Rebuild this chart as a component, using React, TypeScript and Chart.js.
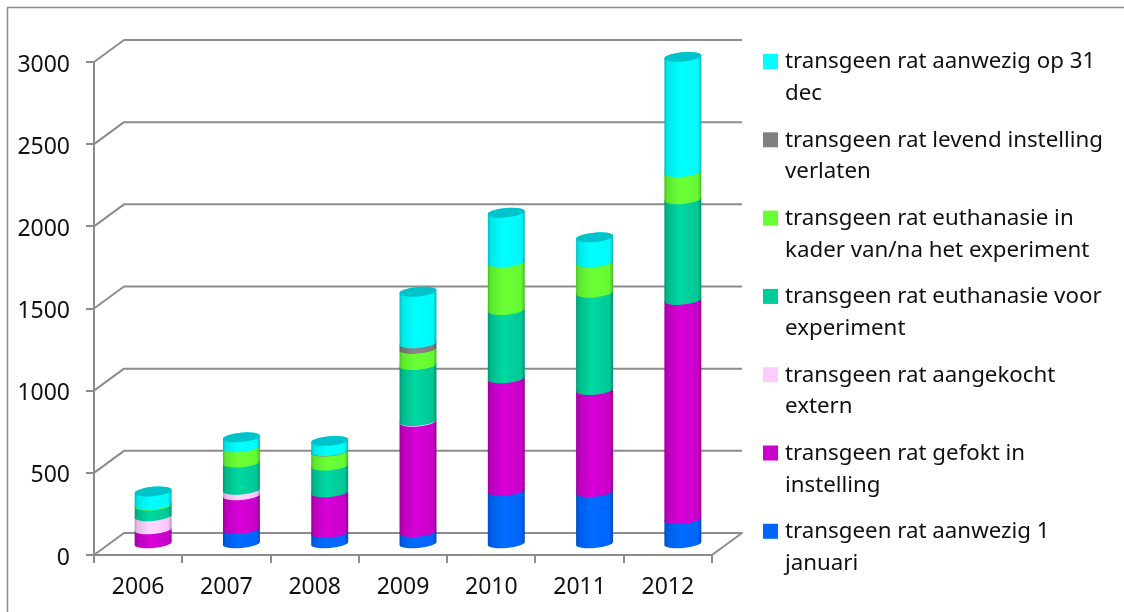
import React, { useEffect, useRef } from "react";
import { Chart, registerables } from "chart.js";

Chart.register(...registerables);

const years = ["2006", "2007", "2008", "2009", "2010", "2011", "2012"];

const aanwezig1Jan = [0, 93, 69, 75, 325, 318, 154];
const gefokt = [91, 205, 247, 671, 685, 621, 1333];
const aangekocht = [80, 33, 0, 4, 0, 0, 0];
const euthanasieVoor = [65, 166, 163, 341, 416, 592, 613];
const euthanasieNa = [5, 93, 85, 98, 290, 185, 165];
const levendVerlaten = [0, 0, 3, 34, 0, 0, 0];
const aanwezig31Dec = [80, 61, 62, 314, 302, 152, 701];

const legendLines: Record<string, string[]> = {
  a: ["transgeen rat aanwezig 1", "januari"],
  b: ["transgeen rat gefokt in", "instelling"],
  c: ["transgeen rat aangekocht", "extern"],
  d: ["transgeen rat euthanasie voor", "experiment"],
  e: ["transgeen rat euthanasie in", "kader van/na het experiment"],
  f: ["transgeen rat levend instelling", "verlaten"],
  g: ["transgeen rat aanwezig op 31", "dec"],
};

const FONT = '"Noto Sans"';
const LEGEND_SIZE = 22.3;
const TICK_SIZE = 23;
const AXIS_GREY = "#8c8c8c";
const TEXT = "#111111";
const DEPTH_X = 30;
const DEPTH_Y = 22;
const BAR_SHIFT_X = 15;
const BAR_SHIFT_Y = 10.7;
const CAP_RY = 4.7;
const TILT = (-5 * Math.PI) / 180;

function shade(hex: string, factor: number) {
  const n = parseInt(hex.slice(1), 16);
  const ch = [(n >> 16) & 255, (n >> 8) & 255, n & 255].map((c) =>
    Math.min(255, Math.round(c * factor)),
  );
  return `rgb(${ch[0]},${ch[1]},${ch[2]})`;
}

// The receding walls and floor of the pseudo-3D plot, hung off the real scales.
const wallsPlugin = {
  id: "walls",
  beforeDatasetsDraw(chart: any) {
    const { ctx, scales } = chart;
    const xs = scales.x;
    const ys = scales.y;
    const left = xs.left;
    const right = xs.right;
    ctx.save();
    ctx.strokeStyle = AXIS_GREY;
    ctx.lineWidth = 2;
    ctx.lineJoin = "round";
    ys.ticks.forEach((t: any) => {
      const y = ys.getPixelForValue(t.value);
      ctx.beginPath();
      ctx.moveTo(left, y);
      ctx.lineTo(left + DEPTH_X, y - DEPTH_Y);
      ctx.lineTo(right + DEPTH_X, y - DEPTH_Y);
      if (t.value === 0) ctx.lineTo(right, y);
      ctx.stroke();
    });
    ctx.restore();
  },
};

// Replaces each flat bar with a shaded cylinder built from the bar element's geometry.
const cylinderPlugin = {
  id: "cylinders",
  beforeDatasetDraw() {
    return false;
  },
  afterDatasetsDraw(chart: any) {
    const { ctx } = chart;
    const count = chart.data.datasets.length;
    const tops: Record<number, any> = {};
    for (let d = 0; d < count; d++) {
      const ds = chart.data.datasets[d];
      const color = ds.backgroundColor as string;
      chart.getDatasetMeta(d).data.forEach((bar: any, i: number) => {
        if (!ds.data[i]) return;
        const cx = bar.x + BAR_SHIFT_X;
        const rx = bar.width / 2;
        const yTop = bar.y - BAR_SHIFT_Y;
        const yBot = bar.base - BAR_SHIFT_Y;
        const g = ctx.createLinearGradient(cx - rx, 0, cx + rx, 0);
        g.addColorStop(0, shade(color, 0.72));
        g.addColorStop(0.07, shade(color, 0.9));
        g.addColorStop(0.42, shade(color, 1.06));
        g.addColorStop(0.9, shade(color, 0.98));
        g.addColorStop(1, shade(color, 0.72));
        ctx.beginPath();
        ctx.ellipse(cx, yTop, rx, CAP_RY, TILT, 0, Math.PI, true);
        ctx.ellipse(cx, yBot, rx, CAP_RY, TILT, Math.PI, 0, true);
        ctx.closePath();
        ctx.fillStyle = g;
        ctx.fill();
        tops[i] = { cx, rx, yTop };
      });
    }
    Object.values(tops).forEach((t: any) => {
      ctx.beginPath();
      ctx.ellipse(t.cx, t.yTop, t.rx, CAP_RY, TILT, 0, Math.PI * 2);
      ctx.fillStyle = "#00c2ca";
      ctx.fill();
    });
  },
};

// Legend in reverse series order, with the swatch beside the first wrapped line.
const legendPlugin = {
  id: "wrappedLegend",
  afterDraw(chart: any) {
    const { ctx } = chart;
    const entries = [...chart.data.datasets].reverse();
    ctx.save();
    ctx.textBaseline = "middle";
    ctx.textAlign = "left";
    ctx.font = `${LEGEND_SIZE}px ${FONT}`;
    entries.forEach((ds: any, i: number) => {
      const top = 54 + i * 78.3;
      ctx.fillStyle = ds.backgroundColor;
      ctx.fillRect(763, top, 15, 15);
      ctx.fillStyle = TEXT;
      ds.lines.forEach((line: string, n: number) => {
        ctx.fillText(line, 785, top + 8 + n * 31.7);
      });
    });
    ctx.restore();
  },
};

// Outer chart border, running off the right and bottom of the page.
const framePlugin = {
  id: "frame",
  beforeDraw(chart: any) {
    const { ctx, width, height } = chart;
    ctx.save();
    ctx.fillStyle = "#ffffff";
    ctx.fillRect(0, 0, width, height);
    ctx.strokeStyle = AXIS_GREY;
    ctx.lineWidth = 1.5;
    ctx.beginPath();
    ctx.moveTo(7.5, height + 2);
    ctx.lineTo(7.5, 7.5);
    ctx.lineTo(width + 2, 7.5);
    ctx.stroke();
    ctx.restore();
  },
};

// Noto Sans digits sit high on a "middle" baseline, so the value labels are nudged down.
function lowerValueLabels(scale: any) {
  if (scale.__lowered) return;
  scale.__lowered = true;
  const drawLabels = scale.drawLabels;
  scale.drawLabels = function (area: any) {
    const { ctx } = this;
    ctx.save();
    ctx.translate(0, 3);
    drawLabels.call(this, area);
    ctx.restore();
  };
}

export default function App() {
  const ref = useRef<HTMLCanvasElement>(null);

  useEffect(() => {
    const series = (label: string, data: number[], backgroundColor: string) => ({
      label,
      data,
      backgroundColor,
      lines: legendLines[label],
      barPercentage: 0.42,
      categoryPercentage: 1,
    });
    const chart = new Chart(ref.current as HTMLCanvasElement, {
      type: "bar",
      data: {
        labels: years,
        datasets: [
          series("a", aanwezig1Jan, "#0066ff"),
          series("b", gefokt, "#cc00cc"),
          series("c", aangekocht, "#ffccff"),
          series("d", euthanasieVoor, "#00cc99"),
          series("e", euthanasieNa, "#66ff33"),
          series("f", levendVerlaten, "#808080"),
          series("g", aanwezig31Dec, "#00ffff"),
        ] as any,
      },
      options: {
        animation: false,
        responsive: false,
        layout: { padding: { left: 0, top: 62, right: 412, bottom: 0 } },
        plugins: { legend: { display: false }, tooltip: { enabled: false } },
        scales: {
          x: {
            stacked: true,
            afterFit: (s: any) => {
              s.height = 57;
              s.paddingLeft = 0;
              s.paddingRight = 0;
            },
            border: { color: AXIS_GREY, width: 2 },
            grid: { drawOnChartArea: false, color: AXIS_GREY, lineWidth: 2, tickLength: 8 },
            ticks: { color: TEXT, font: { family: FONT, size: TICK_SIZE }, padding: 11, maxRotation: 0 },
          },
          y: {
            stacked: true,
            min: 0,
            max: 3000,
            afterFit: (s: any) => {
              s.width = 94;
              s.paddingTop = 0;
              s.paddingBottom = 0;
              lowerValueLabels(s);
            },
            border: { color: AXIS_GREY, width: 2 },
            grid: { drawOnChartArea: false, color: AXIS_GREY, lineWidth: 2, tickLength: 8 },
            ticks: {
              color: TEXT,
              font: { family: FONT, size: TICK_SIZE },
              padding: 16,
              stepSize: 500,
              callback: (v: any) => String(v),
            },
          },
        },
      },
      plugins: [framePlugin, wallsPlugin, cylinderPlugin, legendPlugin],
    } as any);
    return () => chart.destroy();
  }, []);

  return (
    <div style={{ position: "absolute", left: 0, top: 0, width: 1124, height: 612, overflow: "hidden" }}>
      <canvas ref={ref} width={1124} height={612} style={{ display: "block" }} />
    </div>
  );
}
